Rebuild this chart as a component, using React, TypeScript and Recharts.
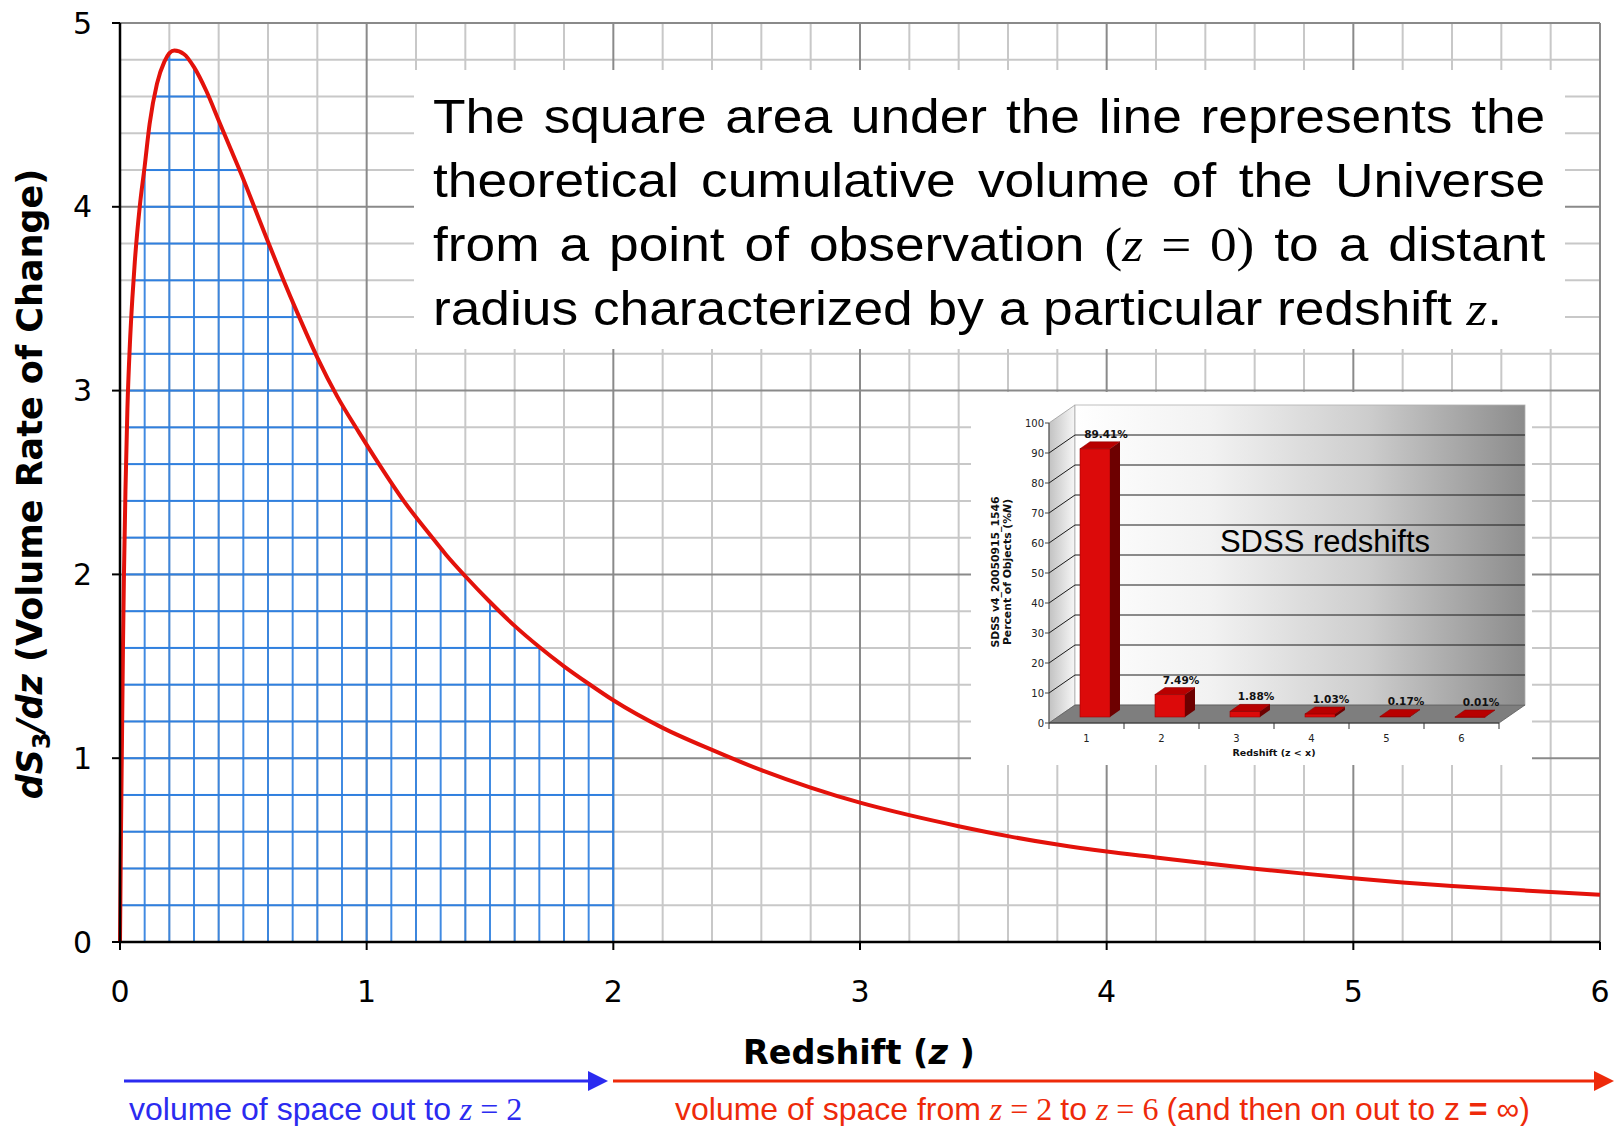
import {
  ComposedChart,
  Line,
  Area,
  XAxis,
  YAxis,
  CartesianGrid,
  ReferenceLine,
  ReferenceArea,
  BarChart,
  Bar,
  LabelList,
} from "recharts";

// redshift z and dS3/dz
const redshift = [
  0, 0.004, 0.008, 0.012, 0.016, 0.022, 0.03, 0.04, 0.05, 0.06, 0.08, 0.1, 0.12, 0.15, 0.18, 0.22, 0.26,
  0.3, 0.35, 0.4, 0.45, 0.5, 0.55, 0.6, 0.66, 0.72, 0.8, 0.88, 0.97, 1.05, 1.15, 1.26, 1.32, 1.4, 1.5,
  1.6, 1.7, 1.8, 1.9, 2.0, 2.2, 2.4, 2.6, 2.8, 3.0, 3.2, 3.4, 3.6, 3.8, 4.0, 4.2, 4.4, 4.6, 4.8, 5.0,
  5.2, 5.4, 5.6, 5.8, 6.0,
];
const volumeRate = [
  0, 0.6, 1.1, 1.6, 2.0, 2.45, 2.9, 3.25, 3.5, 3.7, 4.0, 4.22, 4.45, 4.67, 4.79, 4.85, 4.83,
  4.76, 4.63, 4.47, 4.31, 4.15, 3.98, 3.81, 3.61, 3.42, 3.18, 2.97, 2.77, 2.6, 2.4, 2.21, 2.11, 1.99, 1.85,
  1.72, 1.605, 1.5, 1.405, 1.315, 1.165, 1.045, 0.935, 0.84, 0.758, 0.69, 0.63, 0.576, 0.53, 0.492, 0.46,
  0.428, 0.399, 0.372, 0.347, 0.324, 0.305, 0.288, 0.272, 0.257,
];
const xTicks = [0, 1, 2, 3, 4, 5, 6];
const yTicks = [0, 1, 2, 3, 4, 5];
const shadedTo = 2; // blue ruled volume runs from z = 0 to z = 2

// inset: SDSS redshift histogram
const insetBins = [1, 2, 3, 4, 5, 6];
const insetPercent = [89.41, 7.49, 1.88, 1.03, 0.17, 0.01];
const insetTicks = [0, 10, 20, 30, 40, 50, 60, 70, 80, 90, 100];

const curveData = redshift.map((z, i) => ({
  z,
  rate: volumeRate[i],
  under: z <= shadedTo ? volumeRate[i] : null,
}));
const rateAtEdge = volumeRate[redshift.indexOf(shadedTo)];

const insetData = insetBins.map((bin, i) => ({ bin, pct: insetPercent[i] }));
const insetEdges = [0.5, ...insetBins.map((b) => b + 0.5)];

// layout
const W = 1615;
const H = 1126;
const PLOT = { left: 120, top: 23, right: 1600, bottom: 942 };
const X_AXIS_H = 60;
const cellW = (PLOT.right - PLOT.left) / 60; // 0.1 in z
const cellH = (PLOT.bottom - PLOT.top) / 25; // 0.2 in dS3/dz

const steps = (max: number, step: number) =>
  Array.from({ length: Math.round(max / step) + 1 }, (_, i) => +(i * step).toFixed(1));
const xMinor = steps(6, 0.2).filter((v) => !Number.isInteger(v));
const yMinor = steps(5, 0.2).filter((v) => !Number.isInteger(v));

const SANS = '"Liberation Sans", Arial, sans-serif';
const SERIF = '"Liberation Serif", "Times New Roman", serif';
const VERDANA = '"DejaVu Sans", Verdana, sans-serif';

const BLUE = "#2f80e0";
const RED = "#e3120b";

// inset geometry
const INSET = { left: 971, top: 392, width: 561, height: 373 };
const DEPTH = { x: 26, y: -18 };
const SHIFT = { x: 8, y: -6 };
const BAR_DEPTH = { x: 10, y: -7 };

const Walls = (p: any) => {
  const x = Number(p.x), y = Number(p.y), w = Number(p.width), h = Number(p.height);
  const l = x, r = x + w, t = y, b = y + h;
  return (
    <g>
      <polygon
        points={`${l},${t} ${l + DEPTH.x},${t + DEPTH.y} ${l + DEPTH.x},${b + DEPTH.y} ${l},${b}`}
        fill="url(#sideWall)"
        stroke="#9a9a9a"
        strokeWidth={0.8}
      />
      <rect x={l + DEPTH.x} y={t + DEPTH.y} width={w} height={h} fill="url(#backWall)" stroke="#b0b0b0" strokeWidth={0.8} />
      <polygon
        points={`${l},${b} ${r},${b} ${r + DEPTH.x},${b + DEPTH.y} ${l + DEPTH.x},${b + DEPTH.y}`}
        fill="#7e7e7e"
        stroke="#5a5a5a"
        strokeWidth={0.8}
      />
    </g>
  );
};

const BackLine = (p: any) => {
  const x1 = Number(p.x1), y1 = Number(p.y1), x2 = Number(p.x2), y2 = Number(p.y2);
  return (
    <path
      d={`M${x1},${y1} L${x1 + DEPTH.x},${y1 + DEPTH.y} L${x2 + DEPTH.x},${y2 + DEPTH.y}`}
      stroke="#1a1a1a"
      strokeWidth={1}
      fill="none"
    />
  );
};

const Bar3D = (p: any) => {
  const x = Number(p.x), y = Number(p.y), w = Number(p.width);
  const h = Math.max(Number(p.height), 0.4);
  const fx = x + SHIFT.x;
  const fy = y + SHIFT.y;
  const r = fx + w;
  return (
    <g>
      <rect x={fx} y={fy} width={w} height={h} fill="#dc0a0a" stroke="#a00000" strokeWidth={0.6} />
      <polygon
        points={`${r},${fy} ${r + BAR_DEPTH.x},${fy + BAR_DEPTH.y} ${r + BAR_DEPTH.x},${fy + h + BAR_DEPTH.y} ${r},${fy + h}`}
        fill="#6d0000"
      />
      <polygon
        points={`${fx},${fy} ${fx + BAR_DEPTH.x},${fy + BAR_DEPTH.y} ${r + BAR_DEPTH.x},${fy + BAR_DEPTH.y} ${r},${fy}`}
        fill="#b80000"
        stroke="#8a0000"
        strokeWidth={0.5}
      />
    </g>
  );
};

const BarValue = (p: any) => {
  const x = Number(p.x), y = Number(p.y), w = Number(p.width);
  return (
    <text
      x={x + w / 2 + SHIFT.x + 11}
      y={y + SHIFT.y + BAR_DEPTH.y - 4}
      textAnchor="middle"
      fontSize={10.5}
      fontWeight="bold"
      fontFamily={VERDANA}
      fill="#111"
    >
      {`${Number(p.value).toFixed(2)}%`}
    </text>
  );
};

const InsetChart = () => (
  <div
    style={{
      position: "absolute",
      left: INSET.left,
      top: INSET.top,
      width: INSET.width,
      height: INSET.height,
      background: "#fff",
    }}
  >
    <BarChart
      width={INSET.width}
      height={INSET.height}
      data={insetData}
      margin={{ top: 31, right: 33, bottom: 12, left: 38 }}
    >
      <defs>
        <linearGradient id="backWall" x1="0" y1="0" x2="1" y2="0">
          <stop offset="0%" stopColor="#ffffff" />
          <stop offset="30%" stopColor="#f2f2f2" />
          <stop offset="65%" stopColor="#cdcdcd" />
          <stop offset="100%" stopColor="#8c8c8c" />
        </linearGradient>
        <linearGradient id="sideWall" x1="0" y1="0" x2="1" y2="0">
          <stop offset="0%" stopColor="#c2c2c2" />
          <stop offset="100%" stopColor="#f7f7f7" />
        </linearGradient>
      </defs>
      <XAxis
        xAxisId="bin"
        dataKey="bin"
        type="number"
        domain={[0.5, 6.5]}
        ticks={insetBins}
        height={30}
        tickLine={false}
        tickSize={6}
        tickMargin={6}
        axisLine={{ stroke: "#333", strokeWidth: 1 }}
        tick={{ fontSize: 10, fontFamily: VERDANA, fill: "#222" }}
      />
      <YAxis
        domain={[0, 100]}
        ticks={insetTicks}
        width={40}
        tickSize={4}
        tickMargin={1}
        interval={0}
        axisLine={{ stroke: "#444", strokeWidth: 1 }}
        tickLine={{ stroke: "#444" }}
        tick={{ fontSize: 10, fontFamily: VERDANA, fill: "#222" }}
      />
      <ReferenceArea xAxisId="bin" y1={0} y2={100} shape={Walls} zIndex={-120} />
      {insetTicks
        .filter((t) => t > 0 && t < 100)
        .map((t) => (
          <ReferenceLine key={t} xAxisId="bin" y={t} shape={BackLine} zIndex={-110} />
        ))}
      {insetEdges.map((e) => (
        <ReferenceLine
          key={e}
          xAxisId="bin"
          segment={[{ x: e, y: 0 }, { x: e, y: -2 }]}
          ifOverflow="visible"
          stroke="#333"
          strokeWidth={1}
        />
      ))}
      <Bar xAxisId="bin" dataKey="pct" barSize={30} shape={Bar3D} isAnimationActive={false}>
        <LabelList dataKey="pct" content={BarValue} />
      </Bar>
    </BarChart>
  </div>
);

const boxLines = [
  <>The square area under the line represents the</>,
  <>theoretical cumulative volume of the Universe</>,
  <>
    from a point of observation{" "}
    <span style={{ fontFamily: SERIF }}>
      (<i>z</i> = 0)
    </span>{" "}
    to a distant
  </>,
  <>
    radius characterized by a particular redshift <i style={{ fontFamily: SERIF }}>z</i>.
  </>,
];

const TextBox = () => (
  <div style={{ position: "absolute", left: 414, top: 70, width: 1151, height: 279, background: "#fff" }}>
    <div
      style={{
        position: "absolute",
        left: 19,
        top: 15,
        width: 1002,
        transform: "scaleX(1.11)",
        transformOrigin: "0 0",
        fontFamily: SANS,
        fontSize: 48,
        lineHeight: "64px",
        color: "#000",
      }}
    >
      {boxLines.map((ln, i) => (
        <div
          key={i}
          style={{
            textAlign: "justify",
            textAlignLast: i < boxLines.length - 1 ? "justify" : "left",
          }}
        >
          {ln}
        </div>
      ))}
    </div>
  </div>
);

const Overlay = () => (
  <svg
    width={W}
    height={H}
    style={{ position: "absolute", left: 0, top: 0, pointerEvents: "none" }}
  >
    {/* axis titles */}
    <text x={859} y={1064} textAnchor="middle" fontFamily={VERDANA} fontWeight="bold" fontSize={33.5} fill="#000">
      Redshift (<tspan fontStyle="italic">z</tspan> )
    </text>
    <text
      transform="translate(42,484) rotate(-90)"
      textAnchor="middle"
      fontFamily={VERDANA}
      fontWeight="bold"
      fontSize={35}
      fill="#000"
    >
      <tspan fontStyle="italic">dS</tspan>
      <tspan dy={8} fontSize={24}>3</tspan>
      <tspan dy={-8} fontStyle="italic">/dz</tspan> (Volume Rate of Change)
    </text>

    {/* inset texts */}
    <text x={1325} y={552} textAnchor="middle" fontFamily={SANS} fontSize={31} fill="#000">
      SDSS redshifts
    </text>
    <text x={1274} y={756} textAnchor="middle" fontFamily={VERDANA} fontWeight="bold" fontSize={9.5} fill="#111">
      Redshift (z &lt; x)
    </text>
    <text
      transform="translate(999,572) rotate(-90)"
      textAnchor="middle"
      fontFamily={VERDANA}
      fontWeight="bold"
      fontSize={10.8}
      fill="#111"
    >
      SDSS v4_20050915_1546
    </text>
    <text
      transform="translate(1011,572) rotate(-90)"
      textAnchor="middle"
      fontFamily={VERDANA}
      fontWeight="bold"
      fontSize={10.8}
      fill="#111"
    >
      Percent of Objects (%<tspan fontStyle="italic">N</tspan>)
    </text>

    {/* arrows */}
    <line x1={124} y1={1081} x2={592} y2={1081} stroke="#2b2bf0" strokeWidth={3} />
    <polygon points="588,1071 608,1081 588,1091" fill="#2b2bf0" />
    <line x1={613} y1={1081} x2={1598} y2={1081} stroke="#ee2a0a" strokeWidth={3} />
    <polygon points="1594,1071 1614,1081 1594,1091" fill="#ee2a0a" />

    <text x={129} y={1120} fontFamily={SANS} fontSize={32} fill="#2b2bf0">
      volume of space out to <tspan fontFamily={SERIF} fontStyle="italic">z</tspan>
      <tspan fontFamily={SERIF}> = 2</tspan>
    </text>
    <text x={675} y={1120} fontFamily={SANS} fontSize={32} fill="#ee2a0a">
      volume of space from <tspan fontFamily={SERIF} fontStyle="italic">z</tspan>
      <tspan fontFamily={SERIF}> = 2 </tspan>to <tspan fontFamily={SERIF} fontStyle="italic">z</tspan>
      <tspan fontFamily={SERIF}> = 6 </tspan>(and then on out to z <tspan fontWeight="bold">=</tspan> ∞)
    </text>
  </svg>
);

export default function App() {
  return (
    <div style={{ position: "relative", width: W, height: H, background: "#fff", overflow: "hidden" }}>
      <style>{`body{margin:0}`}</style>
      <ComposedChart
        width={W}
        height={H}
        data={curveData}
        margin={{ top: PLOT.top, right: W - PLOT.right, bottom: H - PLOT.bottom - X_AXIS_H, left: 0 }}
      >
        <defs>
          <pattern
            id="blueGrid"
            patternUnits="userSpaceOnUse"
            x={PLOT.left}
            y={PLOT.bottom}
            width={cellW}
            height={cellH}
          >
            <path
              d={`M0,0 V${cellH} M${cellW},0 V${cellH} M0,0 H${cellW} M0,${cellH} H${cellW}`}
              stroke={BLUE}
              strokeWidth={1.8}
              fill="none"
            />
          </pattern>
        </defs>
        <CartesianGrid verticalValues={xMinor} horizontalValues={yMinor} stroke="#c8c8c8" strokeWidth={2} />
        <CartesianGrid verticalValues={xTicks} horizontalValues={yTicks} stroke="#8a8a8a" strokeWidth={2} />
        <XAxis
          dataKey="z"
          type="number"
          domain={[0, 6]}
          ticks={xTicks}
          height={X_AXIS_H}
          tickSize={8}
          tickMargin={31}
          axisLine={{ stroke: "#000", strokeWidth: 2.5 }}
          tickLine={{ stroke: "#000", strokeWidth: 2 }}
          tick={{ fontSize: 30, fontFamily: VERDANA, fill: "#000" }}
        />
        <YAxis
          type="number"
          domain={[0, 5]}
          ticks={yTicks}
          width={PLOT.left}
          tickSize={8}
          tickMargin={20}
          axisLine={{ stroke: "#000", strokeWidth: 2.5 }}
          tickLine={{ stroke: "#000", strokeWidth: 2 }}
          tick={{ fontSize: 30, fontFamily: VERDANA, fill: "#000" }}
        />
        <Area
          dataKey="under"
          type="monotone"
          stroke="none"
          fill="url(#blueGrid)"
          fillOpacity={1}
          isAnimationActive={false}
        />
        <ReferenceLine
          segment={[{ x: shadedTo, y: 0 }, { x: shadedTo, y: rateAtEdge }]}
          stroke={BLUE}
          strokeWidth={1.8}
        />
        <Line
          dataKey="rate"
          type="monotone"
          stroke={RED}
          strokeWidth={4}
          dot={false}
          isAnimationActive={false}
        />
      </ComposedChart>
      <TextBox />
      <InsetChart />
      <Overlay />
    </div>
  );
}
